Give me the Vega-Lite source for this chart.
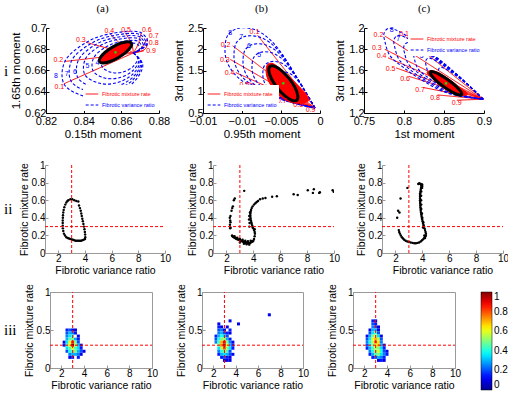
{
"$schema":"https://vega.github.io/schema/vega-lite/v6.json",
"padding":{"left":0,"top":3,"right":0,"bottom":0},
"config":{
"font":"Liberation Sans",
"view":{"stroke":null},
"axis":{"grid":false,"labelFont":"Liberation Sans","titleFont":"Liberation Sans","titleFontWeight":"normal","labelColor":"#000","titleColor":"#000","domainColor":"#000","tickColor":"#000","tickSize":-3,"labelPadding":3,"labelFontSize":10,"titleFontSize":10.5,"labelOverlap":false,"labelFlush":false,"titlePadding":2},
"title":{"font":"Liberation Serif","fontSize":11,"fontWeight":"normal","color":"#000"}
},
"datasets":{
"thr":[{"x":3,"x2":3,"y":0,"y2":1},{"x":1,"x2":10,"y":0.3,"y2":0.3}],
"aRed":[
{"g":"0.1","o":0,"x":0.8664,"y":0.6765},{"g":"0.1","o":1,"x":0.8295,"y":0.6475},
{"g":"0.2","o":0,"x":0.8664,"y":0.6765},{"g":"0.2","o":1,"x":0.849,"y":0.6725},{"g":"0.2","o":2,"x":0.83,"y":0.6685},
{"g":"0.3","o":0,"x":0.8664,"y":0.6765},{"g":"0.3","o":1,"x":0.855,"y":0.68},{"g":"0.3","o":2,"x":0.8415,"y":0.6865},
{"g":"0.4","o":0,"x":0.8664,"y":0.6765},{"g":"0.4","o":1,"x":0.861,"y":0.683},{"g":"0.4","o":2,"x":0.854,"y":0.6945},
{"g":"0.5","o":0,"x":0.8664,"y":0.6765},{"g":"0.5","o":1,"x":0.8655,"y":0.685},{"g":"0.5","o":2,"x":0.862,"y":0.6955},
{"g":"0.6","o":0,"x":0.8664,"y":0.6765},{"g":"0.6","o":1,"x":0.869,"y":0.685},{"g":"0.6","o":2,"x":0.8705,"y":0.6955},
{"g":"0.7","o":0,"x":0.8664,"y":0.6765},{"g":"0.7","o":1,"x":0.871,"y":0.682},{"g":"0.7","o":2,"x":0.874,"y":0.6905},
{"g":"0.8","o":0,"x":0.8664,"y":0.6765},{"g":"0.8","o":1,"x":0.8725,"y":0.68},{"g":"0.8","o":2,"x":0.874,"y":0.685},
{"g":"0.9","o":0,"x":0.8664,"y":0.6765},{"g":"0.9","o":1,"x":0.872,"y":0.6785}],
"aBlue":[
{"g":"8","o":0,"x":0.8664,"y":0.6765},{"g":"8","o":1,"x":0.8714,"y":0.6655},{"g":"8","o":2,"x":0.866,"y":0.648},{"g":"8","o":3,"x":0.853,"y":0.636},{"g":"8","o":4,"x":0.84,"y":0.636},{"g":"8","o":5,"x":0.8295,"y":0.6475},{"g":"8","o":6,"x":0.83,"y":0.6685},{"g":"8","o":7,"x":0.8415,"y":0.6865},{"g":"8","o":8,"x":0.854,"y":0.6945},{"g":"8","o":9,"x":0.8705,"y":0.6955},{"g":"8","o":10,"x":0.874,"y":0.6855},{"g":"8","o":11,"x":0.8664,"y":0.6765},
{"g":"7","o":0,"x":0.8664,"y":0.6765},{"g":"7","o":1,"x":0.8709,"y":0.6666},{"g":"7","o":2,"x":0.866,"y":0.6509},{"g":"7","o":3,"x":0.8543,"y":0.6401},{"g":"7","o":4,"x":0.8426,"y":0.6401},{"g":"7","o":5,"x":0.8332,"y":0.6504},{"g":"7","o":6,"x":0.8336,"y":0.6693},{"g":"7","o":7,"x":0.844,"y":0.6855},{"g":"7","o":8,"x":0.8552,"y":0.6927},{"g":"7","o":9,"x":0.8701,"y":0.6936},{"g":"7","o":10,"x":0.8732,"y":0.6842},{"g":"7","o":11,"x":0.8664,"y":0.6765},
{"g":"6","o":0,"x":0.8664,"y":0.6765},{"g":"6","o":1,"x":0.8704,"y":0.6677},{"g":"6","o":2,"x":0.8661,"y":0.6537},{"g":"6","o":3,"x":0.8557,"y":0.6441},{"g":"6","o":4,"x":0.8453,"y":0.6441},{"g":"6","o":5,"x":0.8369,"y":0.6533},{"g":"6","o":6,"x":0.8373,"y":0.6701},{"g":"6","o":7,"x":0.8465,"y":0.6845},{"g":"6","o":8,"x":0.8565,"y":0.6909},{"g":"6","o":9,"x":0.8697,"y":0.6917},{"g":"6","o":10,"x":0.8725,"y":0.6833},{"g":"6","o":11,"x":0.8664,"y":0.6765},
{"g":"5","o":0,"x":0.8664,"y":0.6765},{"g":"5","o":1,"x":0.8699,"y":0.6688},{"g":"5","o":2,"x":0.8661,"y":0.6566},{"g":"5","o":3,"x":0.857,"y":0.6482},{"g":"5","o":4,"x":0.8479,"y":0.6482},{"g":"5","o":5,"x":0.8406,"y":0.6562},{"g":"5","o":6,"x":0.8409,"y":0.6709},{"g":"5","o":7,"x":0.849,"y":0.6835},{"g":"5","o":8,"x":0.8577,"y":0.6891},{"g":"5","o":9,"x":0.8693,"y":0.6898},{"g":"5","o":10,"x":0.8717,"y":0.6825},{"g":"5","o":11,"x":0.8664,"y":0.6765},
{"g":"4","o":0,"x":0.8664,"y":0.6765},{"g":"4","o":1,"x":0.8693,"y":0.6701},{"g":"4","o":2,"x":0.8662,"y":0.66},{"g":"4","o":3,"x":0.8586,"y":0.653},{"g":"4","o":4,"x":0.8511,"y":0.653},{"g":"4","o":5,"x":0.845,"y":0.6597},{"g":"4","o":6,"x":0.8453,"y":0.6719},{"g":"4","o":7,"x":0.852,"y":0.6823},{"g":"4","o":8,"x":0.8592,"y":0.6869},{"g":"4","o":9,"x":0.8688,"y":0.6875},{"g":"4","o":10,"x":0.8708,"y":0.6814},{"g":"4","o":11,"x":0.8664,"y":0.6765},
{"g":"3","o":0,"x":0.8664,"y":0.6765},{"g":"3","o":1,"x":0.8687,"y":0.6716},{"g":"3","o":2,"x":0.8662,"y":0.6637},{"g":"3","o":3,"x":0.8604,"y":0.6583},{"g":"3","o":4,"x":0.8545,"y":0.6583},{"g":"3","o":5,"x":0.8498,"y":0.6635},{"g":"3","o":6,"x":0.85,"y":0.6729},{"g":"3","o":7,"x":0.8552,"y":0.681},{"g":"3","o":8,"x":0.8608,"y":0.6846},{"g":"3","o":9,"x":0.8683,"y":0.6851},{"g":"3","o":10,"x":0.8698,"y":0.6803},{"g":"3","o":11,"x":0.8664,"y":0.6765}],
"aEll":[{"o":0,"x":0.86535,"y":0.6859},{"o":1,"x":0.86342,"y":0.68717},{"o":2,"x":0.85973,"y":0.68574},{"o":3,"x":0.85529,"y":0.68199},{"o":4,"x":0.85128,"y":0.67694},{"o":5,"x":0.84878,"y":0.67193},{"o":6,"x":0.84845,"y":0.6683},{"o":7,"x":0.85039,"y":0.66704},{"o":8,"x":0.85407,"y":0.66847},{"o":9,"x":0.85851,"y":0.67221},{"o":10,"x":0.86252,"y":0.67727},{"o":11,"x":0.86503,"y":0.68228}],
"aRL":[{"t":"0.1","x":0.8271,"y":0.6445},{"t":"0.2","x":0.8265,"y":0.6702},{"t":"0.3","x":0.8385,"y":0.6884},{"t":"0.4","x":0.8536,"y":0.6975},{"t":"0.5","x":0.8625,"y":0.6985},{"t":"0.6","x":0.8735,"y":0.6985},{"t":"0.7","x":0.8772,"y":0.6922},{"t":"0.8","x":0.8772,"y":0.6859},{"t":"0.9","x":0.8758,"y":0.6787}],
"aBL":[{"t":"8","x":0.8253,"y":0.6551},{"t":"7","x":0.831,"y":0.657},{"t":"6","x":0.8354,"y":0.6586},{"t":"5","x":0.842,"y":0.6645},{"t":"4","x":0.8473,"y":0.667}],
"bRed":[
{"g":"0.1","o":0,"x":-0.00064,"y":0.619},{"g":"0.1","o":1,"x":-0.008,"y":2.33},
{"g":"0.2","o":0,"x":-0.00064,"y":0.619},{"g":"0.2","o":1,"x":-0.0112,"y":2.08},
{"g":"0.3","o":0,"x":-0.00064,"y":0.619},{"g":"0.3","o":1,"x":-0.0115,"y":1.76},
{"g":"0.4","o":0,"x":-0.00064,"y":0.619},{"g":"0.4","o":1,"x":-0.0108,"y":1.45},
{"g":"0.5","o":0,"x":-0.00064,"y":0.619},{"g":"0.5","o":1,"x":-0.0092,"y":1.22},
{"g":"0.6","o":0,"x":-0.00064,"y":0.619},{"g":"0.6","o":1,"x":-0.007,"y":1.01},
{"g":"0.7","o":0,"x":-0.00064,"y":0.619},{"g":"0.7","o":1,"x":-0.0049,"y":0.84},
{"g":"0.8","o":0,"x":-0.00064,"y":0.619},{"g":"0.8","o":1,"x":-0.003,"y":0.72},
{"g":"0.9","o":0,"x":-0.00064,"y":0.619},{"g":"0.9","o":1,"x":-0.0016,"y":0.65}],
"bBlue":[
{"g":"8","o":0,"x":-0.00064,"y":0.619},{"g":"8","o":1,"x":-0.00363,"y":1.532},{"g":"8","o":2,"x":-0.00534,"y":2.008},{"g":"8","o":3,"x":-0.00705,"y":2.325},{"g":"8","o":4,"x":-0.00876,"y":2.484},{"g":"8","o":5,"x":-0.01068,"y":2.484},{"g":"8","o":6,"x":-0.01184,"y":2.325},{"g":"8","o":7,"x":-0.01218,"y":2.008},{"g":"8","o":8,"x":-0.01197,"y":1.73},{"g":"8","o":9,"x":-0.01111,"y":1.452},{"g":"8","o":10,"x":-0.00962,"y":1.214},{"g":"8","o":11,"x":-0.00491,"y":0.817},{"g":"8","o":12,"x":-0.00064,"y":0.619},
{"g":"7","o":0,"x":-0.00064,"y":0.619},{"g":"7","o":1,"x":-0.00333,"y":1.441},{"g":"7","o":2,"x":-0.00487,"y":1.869},{"g":"7","o":3,"x":-0.00641,"y":2.154},{"g":"7","o":4,"x":-0.00795,"y":2.298},{"g":"7","o":5,"x":-0.00968,"y":2.298},{"g":"7","o":6,"x":-0.01072,"y":2.154},{"g":"7","o":7,"x":-0.01103,"y":1.869},{"g":"7","o":8,"x":-0.01084,"y":1.619},{"g":"7","o":9,"x":-0.01006,"y":1.369},{"g":"7","o":10,"x":-0.00872,"y":1.155},{"g":"7","o":11,"x":-0.00448,"y":0.797},{"g":"7","o":12,"x":-0.00064,"y":0.619},
{"g":"6","o":0,"x":-0.00064,"y":0.619},{"g":"6","o":1,"x":-0.00303,"y":1.349},{"g":"6","o":2,"x":-0.0044,"y":1.73},{"g":"6","o":3,"x":-0.00577,"y":1.984},{"g":"6","o":4,"x":-0.00714,"y":2.111},{"g":"6","o":5,"x":-0.00867,"y":2.111},{"g":"6","o":6,"x":-0.0096,"y":1.984},{"g":"6","o":7,"x":-0.00987,"y":1.73},{"g":"6","o":8,"x":-0.0097,"y":1.508},{"g":"6","o":9,"x":-0.00902,"y":1.285},{"g":"6","o":10,"x":-0.00782,"y":1.095},{"g":"6","o":11,"x":-0.00406,"y":0.777},{"g":"6","o":12,"x":-0.00064,"y":0.619},
{"g":"5","o":0,"x":-0.00064,"y":0.619},{"g":"5","o":1,"x":-0.00273,"y":1.258},{"g":"5","o":2,"x":-0.00393,"y":1.591},{"g":"5","o":3,"x":-0.00513,"y":1.813},{"g":"5","o":4,"x":-0.00632,"y":1.925},{"g":"5","o":5,"x":-0.00767,"y":1.925},{"g":"5","o":6,"x":-0.00848,"y":1.813},{"g":"5","o":7,"x":-0.00872,"y":1.591},{"g":"5","o":8,"x":-0.00857,"y":1.397},{"g":"5","o":9,"x":-0.00797,"y":1.202},{"g":"5","o":10,"x":-0.00693,"y":1.036},{"g":"5","o":11,"x":-0.00363,"y":0.758},{"g":"5","o":12,"x":-0.00064,"y":0.619},
{"g":"4","o":0,"x":-0.00064,"y":0.619},{"g":"4","o":1,"x":-0.00237,"y":1.149},{"g":"4","o":2,"x":-0.00337,"y":1.425},{"g":"4","o":3,"x":-0.00436,"y":1.608},{"g":"4","o":4,"x":-0.00535,"y":1.701},{"g":"4","o":5,"x":-0.00646,"y":1.701},{"g":"4","o":6,"x":-0.00714,"y":1.608},{"g":"4","o":7,"x":-0.00733,"y":1.425},{"g":"4","o":8,"x":-0.00721,"y":1.263},{"g":"4","o":9,"x":-0.00671,"y":1.102},{"g":"4","o":10,"x":-0.00585,"y":0.964},{"g":"4","o":11,"x":-0.00312,"y":0.734},{"g":"4","o":12,"x":-0.00064,"y":0.619},
{"g":"3","o":0,"x":-0.00064,"y":0.619},{"g":"3","o":1,"x":-0.00199,"y":1.03},{"g":"3","o":2,"x":-0.00276,"y":1.244},{"g":"3","o":3,"x":-0.00352,"y":1.387},{"g":"3","o":4,"x":-0.00429,"y":1.458},{"g":"3","o":5,"x":-0.00516,"y":1.458},{"g":"3","o":6,"x":-0.00568,"y":1.387},{"g":"3","o":7,"x":-0.00583,"y":1.244},{"g":"3","o":8,"x":-0.00574,"y":1.119},{"g":"3","o":9,"x":-0.00535,"y":0.994},{"g":"3","o":10,"x":-0.00468,"y":0.887},{"g":"3","o":11,"x":-0.00256,"y":0.708},{"g":"3","o":12,"x":-0.00064,"y":0.619}],
"bEll":[{"o":0,"x":-0.00641,"y":1.595},{"o":1,"x":-0.005804,"y":1.5975},{"o":2,"x":-0.004902,"y":1.493},{"o":3,"x":-0.003946,"y":1.3094},{"o":4,"x":-0.003192,"y":1.096},{"o":5,"x":-0.002842,"y":0.9099},{"o":6,"x":-0.00299,"y":0.801},{"o":7,"x":-0.003596,"y":0.7985},{"o":8,"x":-0.004498,"y":0.903},{"o":9,"x":-0.005454,"y":1.0866},{"o":10,"x":-0.006208,"y":1.3},{"o":11,"x":-0.006558,"y":1.4861}],
"bFill":[{"o":0,"x":-0.0068,"y":1.62},{"o":1,"x":-0.006,"y":1.66},{"o":2,"x":-0.0047,"y":1.48},{"o":3,"x":-0.0032,"y":1.22},{"o":4,"x":-0.0018,"y":0.95},{"o":5,"x":-0.0015,"y":0.78},{"o":6,"x":-0.0028,"y":0.73},{"o":7,"x":-0.0042,"y":0.79},{"o":8,"x":-0.0058,"y":1.02},{"o":9,"x":-0.0068,"y":1.35}],
"bRL":[{"t":"0.1","x":-0.0084,"y":2.4},{"t":"0.2","x":-0.0121,"y":2.11},{"t":"0.3","x":-0.0122,"y":1.754},{"t":"0.4","x":-0.0116,"y":1.43},{"t":"0.5","x":-0.0097,"y":1.17},{"t":"0.6","x":-0.0068,"y":0.97},{"t":"0.7","x":-0.0049,"y":0.79},{"t":"0.8","x":-0.0028,"y":0.69},{"t":"0.9","x":-0.0012,"y":0.58}],
"bBL":[{"t":"8","x":-0.0115,"y":2.39},{"t":"7","x":-0.0101,"y":2.29},{"t":"6","x":-0.0091,"y":2.07},{"t":"5","x":-0.0078,"y":1.87}],
"cRed":[
{"g":"0.1","o":0,"x":0.899,"y":1.33},{"g":"0.1","o":1,"x":0.802,"y":1.915},
{"g":"0.2","o":0,"x":0.899,"y":1.33},{"g":"0.2","o":1,"x":0.776,"y":1.925},
{"g":"0.3","o":0,"x":0.899,"y":1.33},{"g":"0.3","o":1,"x":0.776,"y":1.8},
{"g":"0.4","o":0,"x":0.899,"y":1.33},{"g":"0.4","o":1,"x":0.78,"y":1.72},
{"g":"0.5","o":0,"x":0.899,"y":1.33},{"g":"0.5","o":1,"x":0.79,"y":1.625},
{"g":"0.6","o":0,"x":0.899,"y":1.33},{"g":"0.6","o":1,"x":0.806,"y":1.545},
{"g":"0.7","o":0,"x":0.899,"y":1.33},{"g":"0.7","o":1,"x":0.824,"y":1.44},
{"g":"0.8","o":0,"x":0.899,"y":1.33},{"g":"0.8","o":1,"x":0.842,"y":1.37},
{"g":"0.9","o":0,"x":0.899,"y":1.33},{"g":"0.9","o":1,"x":0.866,"y":1.32}],
"cBlue":[
{"g":"8","o":0,"x":0.899,"y":1.33},{"g":"8","o":1,"x":0.8659,"y":1.565},{"g":"8","o":2,"x":0.8325,"y":1.771},{"g":"8","o":3,"x":0.7909,"y":1.978},{"g":"8","o":4,"x":0.78,"y":1.995},{"g":"8","o":5,"x":0.775,"y":1.95},{"g":"8","o":6,"x":0.7763,"y":1.867},{"g":"8","o":7,"x":0.7825,"y":1.74},{"g":"8","o":8,"x":0.7991,"y":1.629},{"g":"8","o":9,"x":0.8241,"y":1.502},{"g":"8","o":10,"x":0.8534,"y":1.39},{"g":"8","o":11,"x":0.899,"y":1.33},
{"g":"7","o":0,"x":0.899,"y":1.33},{"g":"7","o":1,"x":0.8692,"y":1.5415},{"g":"7","o":2,"x":0.8392,"y":1.7269},{"g":"7","o":3,"x":0.8017,"y":1.9132},{"g":"7","o":4,"x":0.7919,"y":1.9285},{"g":"7","o":5,"x":0.7874,"y":1.888},{"g":"7","o":6,"x":0.7886,"y":1.8133},{"g":"7","o":7,"x":0.7942,"y":1.699},{"g":"7","o":8,"x":0.8091,"y":1.5991},{"g":"7","o":9,"x":0.8316,"y":1.4848},{"g":"7","o":10,"x":0.858,"y":1.384},{"g":"7","o":11,"x":0.899,"y":1.33},
{"g":"6","o":0,"x":0.899,"y":1.33},{"g":"6","o":1,"x":0.8725,"y":1.518},{"g":"6","o":2,"x":0.8458,"y":1.6828},{"g":"6","o":3,"x":0.8125,"y":1.8484},{"g":"6","o":4,"x":0.8038,"y":1.862},{"g":"6","o":5,"x":0.7998,"y":1.826},{"g":"6","o":6,"x":0.8008,"y":1.7596},{"g":"6","o":7,"x":0.8058,"y":1.658},{"g":"6","o":8,"x":0.8191,"y":1.5692},{"g":"6","o":9,"x":0.8391,"y":1.4676},{"g":"6","o":10,"x":0.8625,"y":1.378},{"g":"6","o":11,"x":0.899,"y":1.33},
{"g":"5","o":0,"x":0.899,"y":1.33},{"g":"5","o":1,"x":0.8758,"y":1.4945},{"g":"5","o":2,"x":0.8525,"y":1.6387},{"g":"5","o":3,"x":0.8233,"y":1.7836},{"g":"5","o":4,"x":0.8157,"y":1.7955},{"g":"5","o":5,"x":0.8122,"y":1.764},{"g":"5","o":6,"x":0.8131,"y":1.7059},{"g":"5","o":7,"x":0.8175,"y":1.617},{"g":"5","o":8,"x":0.8291,"y":1.5393},{"g":"5","o":9,"x":0.8466,"y":1.4504},{"g":"5","o":10,"x":0.8671,"y":1.372},{"g":"5","o":11,"x":0.899,"y":1.33},
{"g":"4","o":0,"x":0.899,"y":1.33},{"g":"4","o":1,"x":0.8798,"y":1.4663},{"g":"4","o":2,"x":0.8604,"y":1.5858},{"g":"4","o":3,"x":0.8363,"y":1.7058},{"g":"4","o":4,"x":0.83,"y":1.7157},{"g":"4","o":5,"x":0.8271,"y":1.6896},{"g":"4","o":6,"x":0.8278,"y":1.6415},{"g":"4","o":7,"x":0.8314,"y":1.5678},{"g":"4","o":8,"x":0.8411,"y":1.5034},{"g":"4","o":9,"x":0.8556,"y":1.4298},{"g":"4","o":10,"x":0.8726,"y":1.3648},{"g":"4","o":11,"x":0.899,"y":1.33},
{"g":"3","o":0,"x":0.899,"y":1.33},{"g":"3","o":1,"x":0.8841,"y":1.4358},{"g":"3","o":2,"x":0.8691,"y":1.5285},{"g":"3","o":3,"x":0.8504,"y":1.6216},{"g":"3","o":4,"x":0.8455,"y":1.6293},{"g":"3","o":5,"x":0.8432,"y":1.609},{"g":"3","o":6,"x":0.8438,"y":1.5717},{"g":"3","o":7,"x":0.8466,"y":1.5145},{"g":"3","o":8,"x":0.854,"y":1.4646},{"g":"3","o":9,"x":0.8653,"y":1.4074},{"g":"3","o":10,"x":0.8785,"y":1.357},{"g":"3","o":11,"x":0.899,"y":1.33}],
"cEll":[{"o":0,"x":0.83295,"y":1.5855},{"o":1,"x":0.83703,"y":1.5867},{"o":2,"x":0.84525,"y":1.5591},{"o":3,"x":0.85541,"y":1.51},{"o":4,"x":0.8648,"y":1.4526},{"o":5,"x":0.87089,"y":1.4023},{"o":6,"x":0.87205,"y":1.3725},{"o":7,"x":0.86798,"y":1.3713},{"o":8,"x":0.85976,"y":1.3989},{"o":9,"x":0.84959,"y":1.448},{"o":10,"x":0.8402,"y":1.5054},{"o":11,"x":0.83412,"y":1.5557}],
"cFill":[{"o":0,"x":0.832,"y":1.597},{"o":1,"x":0.842,"y":1.585},{"o":2,"x":0.856,"y":1.52},{"o":3,"x":0.87,"y":1.44},{"o":4,"x":0.879,"y":1.385},{"o":5,"x":0.874,"y":1.365},{"o":6,"x":0.862,"y":1.385},{"o":7,"x":0.848,"y":1.44},{"o":8,"x":0.836,"y":1.52},{"o":9,"x":0.829,"y":1.575}],
"cRL":[{"t":"0.1","x":0.8,"y":1.94},{"t":"0.2","x":0.768,"y":1.93},{"t":"0.3","x":0.766,"y":1.812},{"t":"0.4","x":0.772,"y":1.733},{"t":"0.5","x":0.7833,"y":1.612},{"t":"0.6","x":0.8013,"y":1.524},{"t":"0.7","x":0.82,"y":1.416},{"t":"0.8","x":0.8388,"y":1.343},{"t":"0.9","x":0.8659,"y":1.295}],
"cBL":[{"t":"8","x":0.7846,"y":1.978},{"t":"7","x":0.7929,"y":1.892},{"t":"6","x":0.8096,"y":1.788},{"t":"5","x":0.8221,"y":1.74}],
"iiA":[{"x":2.75,"y":0.6},{"x":2.9,"y":0.61},{"x":3.05,"y":0.61},{"x":3.2,"y":0.6},{"x":3.35,"y":0.59},{"x":3.5,"y":0.585},{"x":3.55,"y":0.54},{"x":3.62,"y":0.51},{"x":3.68,"y":0.48},{"x":3.72,"y":0.45},{"x":3.76,"y":0.42},{"x":3.8,"y":0.39},{"x":3.84,"y":0.36},{"x":3.88,"y":0.33},{"x":3.92,"y":0.3},{"x":3.96,"y":0.27},{"x":3.99,"y":0.24},{"x":4.01,"y":0.21},{"x":4.02,"y":0.18},{"x":4.0,"y":0.16},{"x":3.9,"y":0.15},{"x":3.8,"y":0.145},{"x":3.7,"y":0.14},{"x":3.6,"y":0.14},{"x":3.5,"y":0.14},{"x":3.4,"y":0.14},{"x":3.3,"y":0.14},{"x":3.2,"y":0.145},{"x":3.1,"y":0.15},{"x":3.0,"y":0.155},{"x":2.9,"y":0.16},{"x":2.8,"y":0.165},{"x":2.7,"y":0.17},{"x":2.6,"y":0.18},{"x":2.5,"y":0.2},{"x":2.42,"y":0.22},{"x":2.37,"y":0.25},{"x":2.34,"y":0.28},{"x":2.33,"y":0.31},{"x":2.33,"y":0.34},{"x":2.33,"y":0.37},{"x":2.34,"y":0.4},{"x":2.35,"y":0.43},{"x":2.37,"y":0.46},{"x":2.4,"y":0.49},{"x":2.45,"y":0.52},{"x":2.52,"y":0.55},{"x":2.6,"y":0.575},{"x":2.68,"y":0.59}],
"iiB":[{"x":3.32,"y":0.706},{"x":2.62,"y":0.62},{"x":2.55,"y":0.6},{"x":2.48,"y":0.53},{"x":2.43,"y":0.51},{"x":2.38,"y":0.48},{"x":2.3,"y":0.42},{"x":2.25,"y":0.4},{"x":2.28,"y":0.37},{"x":2.3,"y":0.35},{"x":2.26,"y":0.32},{"x":2.3,"y":0.29},{"x":2.28,"y":0.28},{"x":2.42,"y":0.2},{"x":2.45,"y":0.19},{"x":2.5,"y":0.185},{"x":2.55,"y":0.18},{"x":2.6,"y":0.175},{"x":2.65,"y":0.17},{"x":2.7,"y":0.165},{"x":2.75,"y":0.16},{"x":2.8,"y":0.16},{"x":2.85,"y":0.155},{"x":2.9,"y":0.15},{"x":2.95,"y":0.15},{"x":3.0,"y":0.145},{"x":3.05,"y":0.14},{"x":3.1,"y":0.14},{"x":3.15,"y":0.135},{"x":3.2,"y":0.13},{"x":3.25,"y":0.13},{"x":3.3,"y":0.125},{"x":3.35,"y":0.125},{"x":3.4,"y":0.12},{"x":3.45,"y":0.12},{"x":3.5,"y":0.12},{"x":3.55,"y":0.115},{"x":3.6,"y":0.115},{"x":3.65,"y":0.11},{"x":3.7,"y":0.11},{"x":3.75,"y":0.115},{"x":3.8,"y":0.12},{"x":3.85,"y":0.125},{"x":3.9,"y":0.13},{"x":3.95,"y":0.13},{"x":4.0,"y":0.14},{"x":2.6,"y":0.19},{"x":2.8,"y":0.175},{"x":3.0,"y":0.16},{"x":3.2,"y":0.15},{"x":3.4,"y":0.14},{"x":3.6,"y":0.135},{"x":3.8,"y":0.14},{"x":3.0,"y":0.12},{"x":3.3,"y":0.105},{"x":3.5,"y":0.1},{"x":3.7,"y":0.095},{"x":4.05,"y":0.16},{"x":4.1,"y":0.19},{"x":4.12,"y":0.22},{"x":4.1,"y":0.24},{"x":4.05,"y":0.26},{"x":4.0,"y":0.28},{"x":3.95,"y":0.29},{"x":3.92,"y":0.31},{"x":3.88,"y":0.33},{"x":3.85,"y":0.35},{"x":3.82,"y":0.37},{"x":3.8,"y":0.39},{"x":3.78,"y":0.41},{"x":3.77,"y":0.43},{"x":3.78,"y":0.45},{"x":3.8,"y":0.47},{"x":3.83,"y":0.49},{"x":3.88,"y":0.51},{"x":3.95,"y":0.53},{"x":4.05,"y":0.55},{"x":4.15,"y":0.565},{"x":4.25,"y":0.58},{"x":4.35,"y":0.59},{"x":4.5,"y":0.61},{"x":4.7,"y":0.62},{"x":4.9,"y":0.625},{"x":5.4,"y":0.64},{"x":5.75,"y":0.645},{"x":7.0,"y":0.668},{"x":7.3,"y":0.66},{"x":8.05,"y":0.714},{"x":8.5,"y":0.725},{"x":8.43,"y":0.683},{"x":8.9,"y":0.683},{"x":8.95,"y":0.69},{"x":9.9,"y":0.714},{"x":9.98,"y":0.695},{"x":3.7,"y":0.3},{"x":3.72,"y":0.34},{"x":3.68,"y":0.38},{"x":3.7,"y":0.42},{"x":3.75,"y":0.46},{"x":4.1,"y":0.27}],
"iiC":[{"x":2.89,"y":0.74},{"x":2.38,"y":0.62},{"x":2.2,"y":0.48},{"x":2.3,"y":0.46},{"x":2.13,"y":0.4},{"x":2.25,"y":0.26},{"x":2.28,"y":0.24},{"x":2.33,"y":0.22},{"x":2.4,"y":0.2},{"x":2.48,"y":0.18},{"x":2.56,"y":0.165},{"x":2.65,"y":0.15},{"x":2.76,"y":0.14},{"x":2.88,"y":0.13},{"x":3.0,"y":0.125},{"x":3.14,"y":0.12},{"x":3.28,"y":0.115},{"x":3.4,"y":0.11},{"x":3.52,"y":0.11},{"x":3.64,"y":0.115},{"x":3.76,"y":0.12},{"x":3.88,"y":0.13},{"x":3.98,"y":0.145},{"x":4.08,"y":0.16},{"x":4.15,"y":0.175},{"x":4.22,"y":0.19},{"x":4.26,"y":0.2},{"x":4.27,"y":0.22},{"x":4.24,"y":0.24},{"x":4.2,"y":0.26},{"x":4.16,"y":0.28},{"x":4.12,"y":0.3},{"x":4.08,"y":0.32},{"x":4.05,"y":0.34},{"x":4.02,"y":0.36},{"x":3.99,"y":0.38},{"x":3.96,"y":0.4},{"x":3.94,"y":0.42},{"x":3.92,"y":0.44},{"x":3.9,"y":0.46},{"x":3.88,"y":0.48},{"x":3.87,"y":0.5},{"x":3.86,"y":0.52},{"x":3.85,"y":0.54},{"x":3.84,"y":0.56},{"x":3.84,"y":0.58},{"x":3.83,"y":0.6},{"x":3.83,"y":0.62},{"x":3.83,"y":0.64},{"x":3.83,"y":0.66},{"x":3.84,"y":0.68},{"x":3.86,"y":0.7},{"x":3.88,"y":0.72},{"x":3.9,"y":0.74},{"x":3.92,"y":0.76},{"x":3.95,"y":0.77},{"x":3.98,"y":0.78},{"x":3.7,"y":0.785},{"x":3.75,"y":0.79},{"x":3.8,"y":0.79},{"x":3.87,"y":0.785},{"x":3.93,"y":0.78},{"x":4.0,"y":0.76},{"x":3.98,"y":0.74},{"x":4.05,"y":0.29},{"x":4.1,"y":0.31},{"x":4.15,"y":0.2},{"x":4.2,"y":0.17},{"x":3.92,"y":0.5},{"x":3.92,"y":0.55},{"x":3.91,"y":0.6},{"x":3.91,"y":0.65},{"x":3.92,"y":0.7},{"x":3.97,"y":0.45},{"x":4.0,"y":0.4},{"x":4.07,"y":0.35}],
"iiiA":[{"x":2.5,"y":0.5,"v":0.15},{"x":2.75,"y":0.5,"v":0.2},{"x":3.0,"y":0.5,"v":0.1},{"x":3.25,"y":0.5,"v":0.1},
{"x":2.5,"y":0.46,"v":0.2},{"x":2.75,"y":0.46,"v":0.3},{"x":3.0,"y":0.46,"v":0.25},{"x":3.25,"y":0.46,"v":0.15},
{"x":2.5,"y":0.42,"v":0.25},{"x":2.75,"y":0.42,"v":0.35},{"x":3.0,"y":0.42,"v":0.4},{"x":3.5,"y":0.42,"v":0.1},
{"x":2.5,"y":0.38,"v":0.3},{"x":2.75,"y":0.38,"v":0.45},{"x":3.0,"y":0.38,"v":0.5},{"x":3.25,"y":0.38,"v":0.3},{"x":3.5,"y":0.38,"v":0.15},
{"x":2.25,"y":0.34,"v":0.1},{"x":2.5,"y":0.34,"v":0.35},{"x":2.75,"y":0.34,"v":0.6},{"x":3.0,"y":0.34,"v":0.85},{"x":3.25,"y":0.34,"v":0.5},{"x":3.5,"y":0.34,"v":0.2},
{"x":2.25,"y":0.3,"v":0.15},{"x":2.5,"y":0.3,"v":0.4},{"x":2.75,"y":0.3,"v":0.65},{"x":3.0,"y":0.3,"v":1.0},{"x":3.25,"y":0.3,"v":0.55},{"x":3.5,"y":0.3,"v":0.3},{"x":3.75,"y":0.3,"v":0.1},
{"x":2.5,"y":0.26,"v":0.35},{"x":2.75,"y":0.26,"v":0.45},{"x":3.0,"y":0.26,"v":0.6},{"x":3.25,"y":0.26,"v":0.45},{"x":3.5,"y":0.26,"v":0.35},{"x":3.75,"y":0.26,"v":0.15},
{"x":2.5,"y":0.22,"v":0.2},{"x":2.75,"y":0.22,"v":0.4},{"x":3.0,"y":0.22,"v":0.45},{"x":3.25,"y":0.22,"v":0.5},{"x":3.5,"y":0.22,"v":0.3},{"x":3.75,"y":0.22,"v":0.2},{"x":4.0,"y":0.22,"v":0.1},
{"x":2.75,"y":0.18,"v":0.25},{"x":3.0,"y":0.18,"v":0.3},{"x":3.25,"y":0.18,"v":0.3},{"x":3.5,"y":0.18,"v":0.25},{"x":3.75,"y":0.18,"v":0.1},
{"x":2.75,"y":0.14,"v":0.1},{"x":3.0,"y":0.14,"v":0.15},{"x":3.5,"y":0.14,"v":0.15}],
"iiiB":[{"x":3.5,"y":0.62,"v":0.1},{"x":2.5,"y":0.58,"v":0.1},{"x":4.25,"y":0.58,"v":0.1},
{"x":2.5,"y":0.54,"v":0.15},{"x":2.75,"y":0.54,"v":0.1},{"x":3.25,"y":0.54,"v":0.1},
{"x":2.5,"y":0.5,"v":0.2},{"x":2.75,"y":0.5,"v":0.25},{"x":3.0,"y":0.5,"v":0.1},{"x":3.5,"y":0.5,"v":0.15},
{"x":2.5,"y":0.46,"v":0.25},{"x":2.75,"y":0.46,"v":0.3},{"x":3.0,"y":0.46,"v":0.2},{"x":3.25,"y":0.46,"v":0.15},{"x":3.5,"y":0.46,"v":0.1},
{"x":2.25,"y":0.42,"v":0.15},{"x":2.5,"y":0.42,"v":0.3},{"x":2.75,"y":0.42,"v":0.4},{"x":3.0,"y":0.42,"v":0.35},{"x":3.25,"y":0.42,"v":0.2},
{"x":2.25,"y":0.38,"v":0.2},{"x":2.5,"y":0.38,"v":0.4},{"x":2.75,"y":0.38,"v":0.5},{"x":3.0,"y":0.38,"v":0.55},{"x":3.25,"y":0.38,"v":0.3},{"x":3.5,"y":0.38,"v":0.15},
{"x":2.25,"y":0.34,"v":0.25},{"x":2.5,"y":0.34,"v":0.45},{"x":2.75,"y":0.34,"v":0.7},{"x":3.0,"y":0.34,"v":0.9},{"x":3.25,"y":0.34,"v":0.5},{"x":3.5,"y":0.34,"v":0.25},{"x":3.75,"y":0.34,"v":0.1},
{"x":2.5,"y":0.3,"v":0.5},{"x":2.75,"y":0.3,"v":0.75},{"x":3.0,"y":0.3,"v":0.95},{"x":3.25,"y":0.3,"v":0.6},{"x":3.5,"y":0.3,"v":0.3},{"x":3.75,"y":0.3,"v":0.15},
{"x":2.5,"y":0.26,"v":0.35},{"x":2.75,"y":0.26,"v":0.55},{"x":3.0,"y":0.26,"v":0.8},{"x":3.25,"y":0.26,"v":0.5},{"x":3.5,"y":0.26,"v":0.35},{"x":3.75,"y":0.26,"v":0.15},
{"x":2.5,"y":0.22,"v":0.25},{"x":2.75,"y":0.22,"v":0.4},{"x":3.0,"y":0.22,"v":0.5},{"x":3.25,"y":0.22,"v":0.45},{"x":3.5,"y":0.22,"v":0.2},
{"x":2.5,"y":0.18,"v":0.15},{"x":2.75,"y":0.18,"v":0.3},{"x":3.0,"y":0.18,"v":0.35},{"x":3.25,"y":0.18,"v":0.3},{"x":3.5,"y":0.18,"v":0.2},{"x":3.75,"y":0.18,"v":0.1},
{"x":2.75,"y":0.14,"v":0.15},{"x":3.0,"y":0.14,"v":0.2},{"x":3.25,"y":0.14,"v":0.15},{"x":3.5,"y":0.14,"v":0.1},
{"x":3.0,"y":0.1,"v":0.1},{"x":3.25,"y":0.1,"v":0.1},{"x":3.5,"y":0.1,"v":0.1},{"x":7.0,"y":0.7,"v":0.1}],
"iiiC":[{"x":2.75,"y":0.62,"v":0.15},{"x":3.0,"y":0.62,"v":0.1},
{"x":2.75,"y":0.58,"v":0.2},{"x":3.0,"y":0.58,"v":0.15},
{"x":2.75,"y":0.54,"v":0.25},{"x":3.0,"y":0.54,"v":0.2},{"x":3.25,"y":0.54,"v":0.1},
{"x":2.5,"y":0.5,"v":0.1},{"x":2.75,"y":0.5,"v":0.3},{"x":3.0,"y":0.5,"v":0.3},{"x":3.25,"y":0.5,"v":0.1},
{"x":2.5,"y":0.46,"v":0.2},{"x":2.75,"y":0.46,"v":0.35},{"x":3.0,"y":0.46,"v":0.45},{"x":3.25,"y":0.46,"v":0.2},
{"x":2.25,"y":0.42,"v":0.1},{"x":2.5,"y":0.42,"v":0.3},{"x":2.75,"y":0.42,"v":0.5},{"x":3.0,"y":0.42,"v":0.55},{"x":3.25,"y":0.42,"v":0.35},{"x":3.5,"y":0.42,"v":0.1},
{"x":2.25,"y":0.38,"v":0.2},{"x":2.5,"y":0.38,"v":0.35},{"x":2.75,"y":0.38,"v":0.6},{"x":3.0,"y":0.38,"v":0.7},{"x":3.25,"y":0.38,"v":0.55},{"x":3.5,"y":0.38,"v":0.2},
{"x":2.25,"y":0.34,"v":0.25},{"x":2.5,"y":0.34,"v":0.4},{"x":2.75,"y":0.34,"v":0.55},{"x":3.0,"y":0.34,"v":0.8},{"x":3.25,"y":0.34,"v":0.65},{"x":3.5,"y":0.34,"v":0.25},
{"x":2.25,"y":0.3,"v":0.2},{"x":2.5,"y":0.3,"v":0.35},{"x":2.75,"y":0.3,"v":0.5},{"x":3.0,"y":0.3,"v":0.6},{"x":3.25,"y":0.3,"v":0.7},{"x":3.5,"y":0.3,"v":0.3},{"x":3.75,"y":0.3,"v":0.1},
{"x":2.25,"y":0.26,"v":0.15},{"x":2.5,"y":0.26,"v":0.3},{"x":2.75,"y":0.26,"v":0.45},{"x":3.0,"y":0.26,"v":0.55},{"x":3.25,"y":0.26,"v":0.5},{"x":3.5,"y":0.26,"v":0.35},{"x":3.75,"y":0.26,"v":0.15},
{"x":2.5,"y":0.22,"v":0.25},{"x":2.75,"y":0.22,"v":0.4},{"x":3.0,"y":0.22,"v":0.5},{"x":3.25,"y":0.22,"v":0.6},{"x":3.5,"y":0.22,"v":0.4},{"x":3.75,"y":0.22,"v":0.2},{"x":4.0,"y":0.22,"v":0.1},
{"x":2.5,"y":0.18,"v":0.15},{"x":2.75,"y":0.18,"v":0.3},{"x":3.0,"y":0.18,"v":0.45},{"x":3.25,"y":0.18,"v":0.5},{"x":3.5,"y":0.18,"v":0.35},{"x":3.75,"y":0.18,"v":0.25},{"x":4.0,"y":0.18,"v":0.15},
{"x":2.75,"y":0.14,"v":0.15},{"x":3.0,"y":0.14,"v":0.2},{"x":3.25,"y":0.14,"v":0.3},{"x":3.5,"y":0.14,"v":0.25},{"x":3.75,"y":0.14,"v":0.15},
{"x":3.25,"y":0.1,"v":0.1},{"x":3.5,"y":0.1,"v":0.15},{"x":3.75,"y":0.1,"v":0.1}]
},
"resolve":{"scale":{"color":"independent","strokeDash":"independent"}},
"bounds":"full",
"spacing":20,
"vconcat":[
{"hconcat":[
 {"width":14,"height":85,"data":{"values":[{"t":"i"}]},"mark":{"type":"text","font":"Liberation Serif","fontSize":15,"color":"#000","align":"left","dx":-3},"encoding":{"text":{"field":"t"}}},
 {"hconcat":[
  {"width":113,"height":85,"title":{"text":"(a)","offset":8},
   "encoding":{"x":{"field":"x","type":"quantitative","title":"0.15th moment","scale":{"domain":[0.82,0.88],"nice":false,"zero":false},"axis":{"values":[0.82,0.84,0.86,0.88],"format":"~g","labelFontSize":11,"titleFontSize":11.5,"labelPadding":5,"titlePadding":2,"labelOverlap":false}},
     "y":{"field":"y","type":"quantitative","title":"1.65th moment","scale":{"domain":[0.62,0.7],"nice":false,"zero":false},"axis":{"values":[0.62,0.64,0.66,0.68,0.7],"format":"~g","labelFontSize":11,"titleFontSize":11.5,"labelPadding":3,"titlePadding":3,"labelOverlap":false}}},
   "layer":[
    {"data":{"name":"aRed"},"mark":{"type":"line","strokeWidth":1,"interpolate":"catmull-rom","clip":true},"encoding":{"detail":{"field":"g","type":"nominal"},"order":{"field":"o","type":"quantitative"},
      "color":{"datum":"Fibrotic mixture rate","type":"nominal","scale":{"domain":["Fibrotic mixture rate","Fibrotic variance ratio"],"range":["#ff0000","#0000ff"]},"legend":{"orient":"bottom-right","title":null,"symbolType":"stroke","symbolSize":160,"symbolStrokeWidth":1,"labelFontSize":5.5,"fillColor":"#ffffff","padding":2,"rowPadding":0,"offset":2,"labelOffset":3,"encode":{"labels":{"update":{"fill":{"signal":"datum.label == 'Fibrotic mixture rate' ? '#ff0000' : '#0000ff'"}}}}}},
      "strokeDash":{"datum":"Fibrotic mixture rate","type":"nominal","scale":{"domain":["Fibrotic mixture rate","Fibrotic variance ratio"],"range":[[1,0],[3,2]]},"legend":{"orient":"bottom-right","title":null,"symbolType":"stroke","symbolSize":160,"symbolStrokeWidth":1,"labelFontSize":5.5,"fillColor":"#ffffff","padding":2,"rowPadding":0,"offset":2,"labelOffset":3,"encode":{"labels":{"update":{"fill":{"signal":"datum.label == 'Fibrotic mixture rate' ? '#ff0000' : '#0000ff'"}}}}}}}},
    {"data":{"name":"aBlue"},"mark":{"type":"line","strokeWidth":1.1,"interpolate":"catmull-rom","clip":true},"encoding":{"detail":{"field":"g","type":"nominal"},"order":{"field":"o","type":"quantitative"},
      "color":{"datum":"Fibrotic variance ratio","type":"nominal"},"strokeDash":{"datum":"Fibrotic variance ratio","type":"nominal"}}},
    {"data":{"name":"aEll"},"mark":{"type":"line","interpolate":"cardinal-closed","fill":"#ff0000","stroke":"#ff0000","strokeWidth":1},"encoding":{"order":{"field":"o","type":"quantitative"}}},
    {"data":{"name":"aEll"},"mark":{"type":"line","interpolate":"cardinal-closed","stroke":"#000000","strokeWidth":3},"encoding":{"order":{"field":"o","type":"quantitative"}}},
    {"data":{"values":[{"x":0.8569,"y":0.6771}]},"mark":{"type":"square","size":5,"color":"#00ee00","opacity":1}},
    {"data":{"name":"aRL"},"mark":{"type":"text","fontSize":7,"color":"#ff0000"},"encoding":{"text":{"field":"t"}}},
    {"data":{"name":"aBL"},"mark":{"type":"text","fontSize":7,"color":"#0000ff"},"encoding":{"text":{"field":"t"}}}
   ]},
  {"width":117,"height":85,"title":{"text":"(b)","offset":8},
   "encoding":{"x":{"field":"x","type":"quantitative","title":"0.95th moment","scale":{"domain":[-0.015,0],"nice":false,"zero":false},"axis":{"values":[-0.015,-0.01,-0.005,0],"format":"~g","labelFontSize":11,"titleFontSize":11.5,"labelPadding":5,"titlePadding":2,"labelOverlap":false}},
     "y":{"field":"y","type":"quantitative","title":"3rd moment","scale":{"domain":[0.5,2.5],"nice":false,"zero":false},"axis":{"values":[0.5,1,1.5,2,2.5],"format":"~g","labelFontSize":11,"titleFontSize":11.5,"labelPadding":3,"titlePadding":3,"labelOverlap":false}}},
   "layer":[
    {"data":{"name":"bRed"},"mark":{"type":"line","strokeWidth":1,"clip":true},"encoding":{"detail":{"field":"g","type":"nominal"},"order":{"field":"o","type":"quantitative"},
      "color":{"datum":"Fibrotic mixture rate","type":"nominal","scale":{"domain":["Fibrotic mixture rate","Fibrotic variance ratio"],"range":["#ff0000","#0000ff"]},"legend":{"orient":"bottom-left","title":null,"symbolType":"stroke","symbolSize":160,"symbolStrokeWidth":1,"labelFontSize":5.5,"fillColor":"#ffffff","padding":2,"rowPadding":0,"offset":2,"labelOffset":3,"encode":{"labels":{"update":{"fill":{"signal":"datum.label == 'Fibrotic mixture rate' ? '#ff0000' : '#0000ff'"}}}}}},
      "strokeDash":{"datum":"Fibrotic mixture rate","type":"nominal","scale":{"domain":["Fibrotic mixture rate","Fibrotic variance ratio"],"range":[[1,0],[3,2]]},"legend":{"orient":"bottom-left","title":null,"symbolType":"stroke","symbolSize":160,"symbolStrokeWidth":1,"labelFontSize":5.5,"fillColor":"#ffffff","padding":2,"rowPadding":0,"offset":2,"labelOffset":3,"encode":{"labels":{"update":{"fill":{"signal":"datum.label == 'Fibrotic mixture rate' ? '#ff0000' : '#0000ff'"}}}}}}}},
    {"data":{"name":"bBlue"},"mark":{"type":"line","strokeWidth":1.1,"interpolate":"catmull-rom","clip":true},"encoding":{"detail":{"field":"g","type":"nominal"},"order":{"field":"o","type":"quantitative"},
      "color":{"datum":"Fibrotic variance ratio","type":"nominal"},"strokeDash":{"datum":"Fibrotic variance ratio","type":"nominal"}}},
    {"data":{"name":"bFill"},"mark":{"type":"line","interpolate":"cardinal-closed","fill":"#ff0000","stroke":"#ff0000","strokeWidth":1},"encoding":{"order":{"field":"o","type":"quantitative"}}},
    {"data":{"name":"bEll"},"mark":{"type":"line","interpolate":"cardinal-closed","stroke":"#000000","strokeWidth":3},"encoding":{"order":{"field":"o","type":"quantitative"}}},
    {"data":{"values":[{"x":-0.0047,"y":1.198}]},"mark":{"type":"square","size":5,"color":"#00ee00","opacity":1}},
    {"data":{"name":"bRL"},"mark":{"type":"text","fontSize":7,"color":"#ff0000"},"encoding":{"text":{"field":"t"}}},
    {"data":{"name":"bBL"},"mark":{"type":"text","fontSize":7,"color":"#0000ff"},"encoding":{"text":{"field":"t"}}}
   ]},
  {"width":120,"height":85,"title":{"text":"(c)","offset":8},
   "encoding":{"x":{"field":"x","type":"quantitative","title":"1st moment","scale":{"domain":[0.75,0.9],"nice":false,"zero":false},"axis":{"values":[0.75,0.8,0.85,0.9],"format":"~g","labelFontSize":11,"titleFontSize":11.5,"labelPadding":5,"titlePadding":2,"labelOverlap":false}},
     "y":{"field":"y","type":"quantitative","title":"3rd moment","scale":{"domain":[1.2,2],"nice":false,"zero":false},"axis":{"values":[1.2,1.4,1.6,1.8,2],"format":"~g","labelFontSize":11,"titleFontSize":11.5,"labelPadding":3,"titlePadding":3,"labelOverlap":false}}},
   "layer":[
    {"data":{"name":"cRed"},"mark":{"type":"line","strokeWidth":1,"clip":true},"encoding":{"detail":{"field":"g","type":"nominal"},"order":{"field":"o","type":"quantitative"},
      "color":{"datum":"Fibrotic mixture rate","type":"nominal","scale":{"domain":["Fibrotic mixture rate","Fibrotic variance ratio"],"range":["#ff0000","#0000ff"]},"legend":{"orient":"top-right","title":null,"symbolType":"stroke","symbolSize":160,"symbolStrokeWidth":1,"labelFontSize":5.5,"fillColor":"#ffffff","padding":2,"rowPadding":0,"offset":2,"labelOffset":3,"encode":{"labels":{"update":{"fill":{"signal":"datum.label == 'Fibrotic mixture rate' ? '#ff0000' : '#0000ff'"}}}}}},
      "strokeDash":{"datum":"Fibrotic mixture rate","type":"nominal","scale":{"domain":["Fibrotic mixture rate","Fibrotic variance ratio"],"range":[[1,0],[3,2]]},"legend":{"orient":"top-right","title":null,"symbolType":"stroke","symbolSize":160,"symbolStrokeWidth":1,"labelFontSize":5.5,"fillColor":"#ffffff","padding":2,"rowPadding":0,"offset":2,"labelOffset":3,"encode":{"labels":{"update":{"fill":{"signal":"datum.label == 'Fibrotic mixture rate' ? '#ff0000' : '#0000ff'"}}}}}}}},
    {"data":{"name":"cBlue"},"mark":{"type":"line","strokeWidth":1.1,"interpolate":"catmull-rom","clip":true},"encoding":{"detail":{"field":"g","type":"nominal"},"order":{"field":"o","type":"quantitative"},
      "color":{"datum":"Fibrotic variance ratio","type":"nominal"},"strokeDash":{"datum":"Fibrotic variance ratio","type":"nominal"}}},
    {"data":{"name":"cFill"},"mark":{"type":"line","interpolate":"cardinal-closed","fill":"#ff0000","stroke":"#ff0000","strokeWidth":1},"encoding":{"order":{"field":"o","type":"quantitative"}}},
    {"data":{"name":"cEll"},"mark":{"type":"line","interpolate":"cardinal-closed","stroke":"#000000","strokeWidth":3},"encoding":{"order":{"field":"o","type":"quantitative"}}},
    {"data":{"values":[{"x":0.8525,"y":1.479}]},"mark":{"type":"square","size":5,"color":"#00ee00","opacity":1}},
    {"data":{"name":"cRL"},"mark":{"type":"text","fontSize":7,"color":"#ff0000"},"encoding":{"text":{"field":"t"}}},
    {"data":{"name":"cBL"},"mark":{"type":"text","fontSize":7,"color":"#0000ff"},"encoding":{"text":{"field":"t"}}}
   ]}
 ],"spacing":44,"bounds":"flush","resolve":{"scale":{"color":"independent","strokeDash":"independent"}}}
],"spacing":32,"bounds":"flush","resolve":{"scale":{"color":"independent","strokeDash":"independent"}}},
{"vconcat":[
 {"hconcat":[
  {"width":14,"height":88,"data":{"values":[{"t":"ii"}]},"mark":{"type":"text","font":"Liberation Serif","fontSize":15,"color":"#000","align":"left","dx":-3},"encoding":{"text":{"field":"t"}}},
  {"hconcat":[
   {"width":120,"height":88,
    "encoding":{"x":{"field":"x","type":"quantitative","title":"Fibrotic variance ratio","scale":{"domain":[1,10],"nice":false,"zero":false},"axis":{"values":[2,4,6,8,10],"domainColor":"#999","tickColor":"#999","labelOverlap":false}},"y":{"field":"y","type":"quantitative","title":"Fibrotic mixture rate","scale":{"domain":[0,1],"nice":false,"zero":false},"axis":{"values":[0,0.2,0.4,0.6,0.8,1],"format":"~g","domainColor":"#999","tickColor":"#999","labelOverlap":false}}},
    "layer":[
    {"data":{"name":"iiA"},"mark":{"type":"circle","size":6,"color":"#000","opacity":1}},
    {"data":{"name":"thr"},"mark":{"type":"rule","color":"#ff0000","strokeDash":[3,2],"strokeWidth":1},"encoding":{"x2":{"field":"x2"},"y2":{"field":"y2"}}}
   ]},
   {"width":121,"height":88,
    "encoding":{"x":{"field":"x","type":"quantitative","title":"Fibrotic variance ratio","scale":{"domain":[1,10],"nice":false,"zero":false},"axis":{"values":[2,4,6,8,10],"domainColor":"#999","tickColor":"#999","labelOverlap":false}},"y":{"field":"y","type":"quantitative","title":"Fibrotic mixture rate","scale":{"domain":[0,1],"nice":false,"zero":false},"axis":{"values":[0,0.2,0.4,0.6,0.8,1],"format":"~g","domainColor":"#999","tickColor":"#999","labelOverlap":false}}},
    "layer":[
    {"data":{"name":"iiB"},"mark":{"type":"circle","size":6,"color":"#000","opacity":1,"clip":true}},
    {"data":{"name":"thr"},"mark":{"type":"rule","color":"#ff0000","strokeDash":[3,2],"strokeWidth":1},"encoding":{"x2":{"field":"x2"},"y2":{"field":"y2"}}}
   ]},
   {"width":121,"height":88,
    "encoding":{"x":{"field":"x","type":"quantitative","title":"Fibrotic variance ratio","scale":{"domain":[1,10],"nice":false,"zero":false},"axis":{"values":[2,4,6,8,10],"domainColor":"#999","tickColor":"#999","labelOverlap":false}},"y":{"field":"y","type":"quantitative","title":"Fibrotic mixture rate","scale":{"domain":[0,1],"nice":false,"zero":false},"axis":{"values":[0,0.2,0.4,0.6,0.8,1],"format":"~g","domainColor":"#999","tickColor":"#999","labelOverlap":false}}},
    "layer":[
    {"data":{"name":"iiC"},"mark":{"type":"circle","size":6,"color":"#000","opacity":1}},
    {"data":{"name":"thr"},"mark":{"type":"rule","color":"#ff0000","strokeDash":[3,2],"strokeWidth":1},"encoding":{"x2":{"field":"x2"},"y2":{"field":"y2"}}}
   ]}
  ],"spacing":48,"bounds":"flush","resolve":{"scale":{"color":"independent","strokeDash":"independent"}}}
 ],"spacing":31,"bounds":"flush","resolve":{"scale":{"color":"independent","strokeDash":"independent"}}},
 {"hconcat":[
  {"width":14,"height":76,"data":{"values":[{"t":"iii"}]},"mark":{"type":"text","font":"Liberation Serif","fontSize":15,"color":"#000","align":"left","dx":-3},"encoding":{"text":{"field":"t"}}},
  {"hconcat":[
   {"width":102,"height":76,"view":{"stroke":"#999","strokeWidth":1},
    "encoding":{"x":{"field":"x","type":"quantitative","title":"Fibrotic variance ratio","scale":{"domain":[1,10],"nice":false,"zero":false},"axis":{"values":[2,4,6,8,10],"domainColor":"#999","tickColor":"#999","labelOverlap":false}},"y":{"field":"y","type":"quantitative","title":"Fibrotic mixture rate","scale":{"domain":[0,1],"nice":false,"zero":false},"axis":{"values":[0,0.5,1],"format":"~g","domainColor":"#999","tickColor":"#999","labelOverlap":false}}},
    "layer":[
    {"data":{"name":"iiiA"},"mark":{"type":"square","size":9,"opacity":1,"strokeWidth":0},"encoding":{"color":{"field":"v","type":"quantitative","scale":{"type":"linear","domain":[0,0.125,0.375,0.625,0.875,1],"range":["#00008f","#0000ff","#00ffff","#ffff00","#ff0000","#800000"],"interpolate":"rgb"},"legend":null}}},
    {"data":{"name":"thr"},"mark":{"type":"rule","color":"#ff0000","strokeDash":[3,2],"strokeWidth":1},"encoding":{"x2":{"field":"x2"},"y2":{"field":"y2"}}}
   ]},
   {"width":101,"height":76,"view":{"stroke":"#999","strokeWidth":1},
    "encoding":{"x":{"field":"x","type":"quantitative","title":"Fibrotic variance ratio","scale":{"domain":[1,10],"nice":false,"zero":false},"axis":{"values":[2,4,6,8,10],"domainColor":"#999","tickColor":"#999","labelOverlap":false}},"y":{"field":"y","type":"quantitative","title":"Fibrotic mixture rate","scale":{"domain":[0,1],"nice":false,"zero":false},"axis":{"values":[0,0.5,1],"format":"~g","domainColor":"#999","tickColor":"#999","labelOverlap":false}}},
    "layer":[
    {"data":{"name":"iiiB"},"mark":{"type":"square","size":9,"opacity":1,"strokeWidth":0},"encoding":{"color":{"field":"v","type":"quantitative","scale":{"type":"linear","domain":[0,0.125,0.375,0.625,0.875,1],"range":["#00008f","#0000ff","#00ffff","#ffff00","#ff0000","#800000"],"interpolate":"rgb"},"legend":null}}},
    {"data":{"name":"thr"},"mark":{"type":"rule","color":"#ff0000","strokeDash":[3,2],"strokeWidth":1},"encoding":{"x2":{"field":"x2"},"y2":{"field":"y2"}}}
   ]},
   {"width":102,"height":76,"view":{"stroke":"#999","strokeWidth":1},
    "encoding":{"x":{"field":"x","type":"quantitative","title":"Fibrotic variance ratio","scale":{"domain":[1,10],"nice":false,"zero":false},"axis":{"values":[2,4,6,8,10],"domainColor":"#999","tickColor":"#999","labelOverlap":false}},"y":{"field":"y","type":"quantitative","title":"Fibrotic mixture rate","scale":{"domain":[0,1],"nice":false,"zero":false},"axis":{"values":[0,0.5,1],"format":"~g","domainColor":"#999","tickColor":"#999","labelOverlap":false}}},
    "layer":[
    {"data":{"name":"iiiC"},"mark":{"type":"square","size":9,"opacity":1,"strokeWidth":0},"encoding":{"color":{"field":"v","type":"quantitative","scale":{"type":"linear","domain":[0,0.125,0.375,0.625,0.875,1],"range":["#00008f","#0000ff","#00ffff","#ffff00","#ff0000","#800000"],"interpolate":"rgb"},"legend":{"orient":"none","legendX":128,"legendY":0,"direction":"vertical","gradientLength":98,"gradientThickness":11,"title":null,"values":[0,0.2,0.4,0.6,0.8,1],"format":"~g","labelFontSize":10,"labelColor":"#000","gradientStrokeColor":"#000","gradientStrokeWidth":0.5,"labelOffset":2}}}},
    {"data":{"name":"thr"},"mark":{"type":"rule","color":"#ff0000","strokeDash":[3,2],"strokeWidth":1},"encoding":{"x2":{"field":"x2"},"y2":{"field":"y2"}}}
   ]}
  ],"spacing":50,"bounds":"flush","resolve":{"scale":{"color":"independent","strokeDash":"independent"}}}
 ],"spacing":36,"bounds":"flush","resolve":{"scale":{"color":"independent","strokeDash":"independent"}}}
],"spacing":7,"bounds":"full","resolve":{"scale":{"color":"independent","strokeDash":"independent"}}}
]
}
